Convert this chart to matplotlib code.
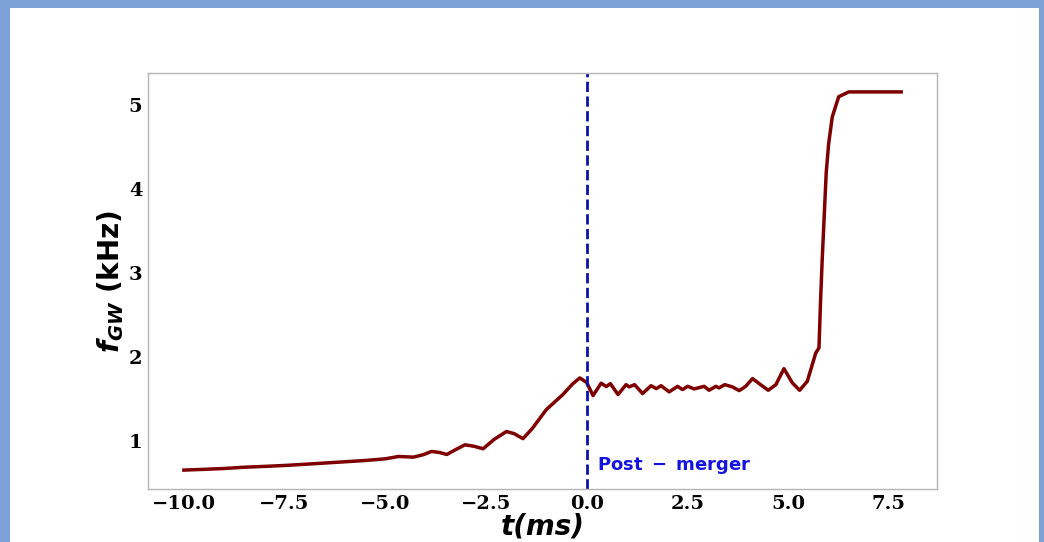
import numpy as np
import matplotlib.pyplot as plt
from matplotlib.patches import Rectangle

# time (ms) and GW frequency (kHz)
t = [-10.0, -9.5, -9.0, -8.5, -8.0, -7.5, -7.0, -6.5, -6.0, -5.5, -5.0,
     -4.67, -4.3, -4.05, -3.85, -3.65, -3.47, -3.25, -3.02, -2.8, -2.57,
     -2.3, -1.99, -1.8, -1.58, -1.35, -1.0, -0.59, -0.35, -0.17, 0.0, 0.16,
     0.36, 0.49, 0.59, 0.78, 0.98, 1.06, 1.19, 1.39, 1.6, 1.73, 1.85, 2.05,
     2.26, 2.38, 2.51, 2.67, 2.92, 3.04, 3.21, 3.29, 3.43, 3.62, 3.79, 3.95,
     4.12, 4.32, 4.51, 4.70, 4.9, 5.11, 5.29, 5.48, 5.69, 5.77, 5.81, 5.85,
     5.95, 6.01, 6.1, 6.26, 6.51, 7.0, 7.81]
f = [0.656, 0.665, 0.675, 0.69, 0.70, 0.711, 0.725, 0.74, 0.755, 0.77, 0.79,
     0.818, 0.81, 0.84, 0.878, 0.865, 0.842, 0.90, 0.957, 0.94, 0.91,
     1.02, 1.115, 1.09, 1.03, 1.15, 1.376, 1.555, 1.68, 1.753, 1.70, 1.543,
     1.69, 1.65, 1.685, 1.555, 1.673, 1.646, 1.673, 1.567, 1.66, 1.626, 1.66, 1.587,
     1.653, 1.614, 1.653, 1.622, 1.653, 1.606, 1.653, 1.634, 1.673, 1.646, 1.602, 1.653,
     1.745, 1.673, 1.606, 1.673, 1.863, 1.693, 1.606, 1.713, 2.05, 2.11, 2.68, 3.16,
     4.2, 4.54, 4.86, 5.10, 5.157, 5.157, 5.157]

x_ticks = [-10.0, -7.5, -5.0, -2.5, 0.0, 2.5, 5.0, 7.5]
y_ticks = [1, 2, 3, 4, 5]
merger_t = 0.0

fig = plt.figure(figsize=(10.44, 5.42), dpi=100, facecolor='#7ba1d6')
fig.patches.append(Rectangle((10/1044, 0), 1029/1044, 534/542, transform=fig.transFigure,
                             facecolor='white', edgecolor='none', zorder=-5))

ax = fig.add_axes([148/1044, 53/542, 789/1044, 416/542], zorder=2)
ax.plot(t, f, color='#7f0000', lw=2.5)
ax.axvline(merger_t, color='#0a14a8', lw=2, ls='--')
ax.text(0.25, 0.66, r'$\mathbf{Post\ -\ merger}$', color='#1414e0', fontsize=13)

ax.set_xticks(x_ticks)
ax.set_yticks(y_ticks)
ax.set_xticklabels([f'{v:.1f}'.replace('-', '\u2212') for v in x_ticks],
                   family='DejaVu Serif', fontweight='bold', fontsize=14)
ax.set_yticklabels([str(v) for v in y_ticks],
                   family='DejaVu Serif', fontweight='bold', fontsize=14)
ax.tick_params(length=0, pad=4)
for s in ax.spines.values():
    s.set_color('#b4b4b4')
    s.set_linewidth(1)

ax.set_xlabel('t(ms)', fontsize=20, fontweight='bold', fontstyle='italic', labelpad=0)
ax.set_ylabel(r'$\mathbfit{f_{GW}}$ (kHz)', fontsize=20, fontweight='bold', labelpad=2)

fig.savefig('out.png', dpi=100, facecolor=fig.get_facecolor())
